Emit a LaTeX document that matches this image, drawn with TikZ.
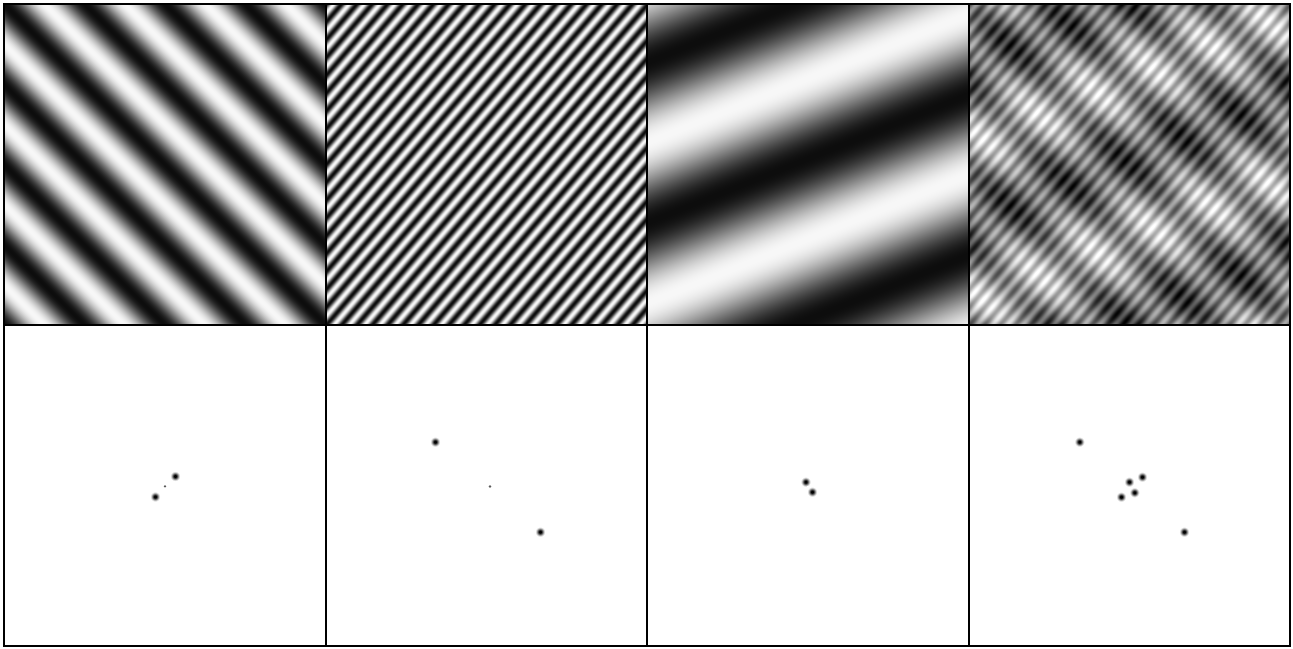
\documentclass[tikz,border=0pt]{standalone}
\usetikzlibrary{shadings}

% gratings: shading box is 0..100bp, the panel gets its middle 25..75bp
\pgfdeclarefunctionalshading{gratingone}{\pgfpointorigin}{\pgfpoint{100bp}{100bp}}{}{
  add 28.8 mul 180 add cos 0.46 mul 0.51 add dup dup
}
\pgfdeclarefunctionalshading{gratingtwo}{\pgfpointorigin}{\pgfpoint{100bp}{100bp}}{}{
  -129.6 mul exch 151.2 mul add cos 0.46 mul 0.51 add dup dup
}
\pgfdeclarefunctionalshading{gratingthree}{\pgfpointorigin}{\pgfpoint{100bp}{100bp}}{}{
  -14.4 mul exch 5.76 mul add 266 add cos 0.46 mul 0.51 add dup dup
}
\pgfdeclarefunctionalshading{gratingsum}{\pgfpointorigin}{\pgfpoint{100bp}{100bp}}{}{
  2 copy add 28.8 mul 180 add cos 3 1 roll
  2 copy -129.6 mul exch 151.2 mul add cos 3 1 roll
  -14.4 mul exch 5.76 mul add 266 add cos
  add add 0.17 mul 0.51 add dup dup
}
% blurred spectral peak
\pgfdeclareradialshading{peakblur}{\pgfpointorigin}{color(0bp)=(black); color(6bp)=(black); color(13bp)=(black!55); color(23bp)=(white); color(50bp)=(white)}

\begin{document}
\begin{tikzpicture}[
      x=0.5pt, y=-0.5pt,
      frame/.style={draw=black, line width=1pt},
      peak/.style={rectangle, inner sep=0pt, minimum size=5pt, shading=peakblur},
      dc/.style={circle, inner sep=0pt, minimum size=1.3pt, fill=black!65}
    ]
    \useasboundingbox (0,0) rectangle (1293,648);
    \fill[white] (0,0) rectangle (1293,648);
    % top row: the gratings
    \shade[shading=gratingone]   (4,4)      rectangle (325.5,325);
    \shade[shading=gratingtwo]   (325.5,4)  rectangle (647,325);
    \shade[shading=gratingthree] (647,4)    rectangle (968.5,325);
    \shade[shading=gratingsum]   (968.5,4)  rectangle (1290,325);
    % bottom row: their spectra
    \node[dc]   (dcone) at (165,486.3) {};
    \node[peak] (pka) at (175,476) {};
    \node[peak] (pkb) at (155,496.5) {};
    \node[dc]   (dctwo) at (490,486.5) {};
    \node[peak] (pkc) at (435,441.7) {};
    \node[peak] (pkd) at (540,531.7) {};
    \node[peak] (pke) at (805.5,481.7) {};
    \node[peak] (pkf) at (812,491.7) {};
    \node[peak] (pkg) at (1079.3,441.7) {};
    \node[peak] (pkh) at (1142,476.7) {};
    \node[peak] (pki) at (1129,481.7) {};
    \node[peak] (pkj) at (1134.3,492.3) {};
    \node[peak] (pkk) at (1121,496.7) {};
    \node[peak] (pkl) at (1184,531.7) {};
    % grid
    \draw[frame] (4,4) rectangle (1290,646);
    \draw[frame] (4,325) -- (1290,325);
    \foreach \gx in {325.5,647,968.5}
      \draw[frame] (\gx,4) -- (\gx,646);
  \end{tikzpicture}
\end{document}
